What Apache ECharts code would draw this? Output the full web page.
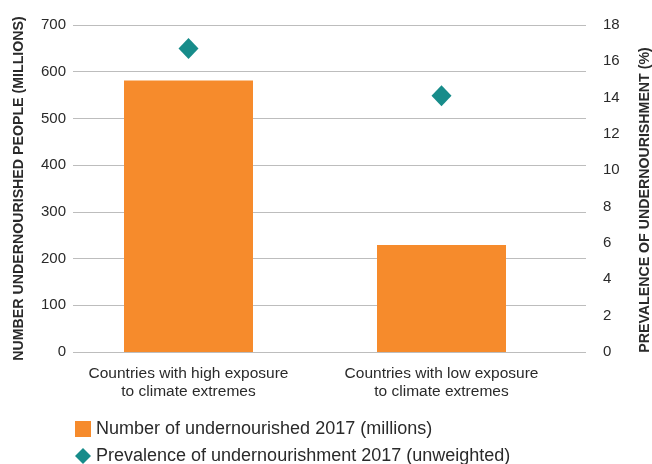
<!DOCTYPE html>
<html><head><meta charset="utf-8">
<script src="https://cdn.jsdelivr.net/npm/echarts@6/dist/echarts.min.js"></script>
<style>html,body{margin:0;padding:0;background:#fff}#c{width:652px;height:464px}</style>
</head><body><div id="c"></div>
<script>
const categories = ['Countries with high exposure\nto climate extremes', 'Countries with low exposure\nto climate extremes'];
const undernourishedMillions = [581, 229];
const prevalencePct = [16.7, 14.1];
const leftTicks = [0, 700, 100];
const rightTicks = [0, 18, 2];

const FONT = '"Liberation Sans", Arial, sans-serif';
const ORANGE = '#F68B2C', TEAL = '#178C8A', TXT = '#2a2a2a';
const TOP = 25, BOTTOM = 112;
const NAME_BAR = 'Number of undernourished 2017 (millions)';
const NAME_PT = 'Prevalence of undernourishment 2017 (unweighted)';

const chart = echarts.init(document.getElementById('c'));
chart.setOption({
  animation: false,
  textStyle: { fontFamily: FONT },
  grid: [
    { left: 73, right: 66, top: TOP, bottom: BOTTOM, containLabel: false, outerBoundsMode: 'none' },
    { left: 62, right: 84, top: TOP, bottom: BOTTOM, containLabel: false, outerBoundsMode: 'none' }
  ],
  xAxis: [
    { gridIndex: 0, type: 'category', data: categories, show: false },
    { gridIndex: 1, type: 'category', data: categories,
      axisLine: { show: false }, axisTick: { show: false },
      axisLabel: { interval: 0, hideOverlap: false, color: TXT, fontSize: 15.5, lineHeight: 18, margin: 13, fontFamily: FONT } }
  ],
  yAxis: [
    { gridIndex: 0, type: 'value', min: leftTicks[0], max: leftTicks[1], interval: leftTicks[2], position: 'left',
      name: 'NUMBER UNDERNOURISHED PEOPLE (MILLIONS)', nameLocation: 'middle', nameGap: 47, nameRotate: 90,
      nameTextStyle: { fontWeight: 'bold', fontSize: 14.2, color: TXT, fontFamily: FONT },
      axisLine: { show: false }, axisTick: { show: false },
      axisLabel: { color: TXT, fontSize: 15, margin: 7, fontFamily: FONT },
      splitLine: { lineStyle: { color: '#bdbdbd', width: 1.2 } } },
    { gridIndex: 0, type: 'value', min: rightTicks[0], max: rightTicks[1], interval: rightTicks[2], position: 'right',
      name: 'PREVALENCE OF UNDERNOURISHMENT (%)', nameLocation: 'middle', nameGap: 52, nameRotate: 90,
      nameTextStyle: { fontWeight: 'bold', fontSize: 14.2, color: TXT, fontFamily: FONT, padding: [0, 23, 0, 0] },
      axisLine: { show: false }, axisTick: { show: false },
      axisLabel: { color: TXT, fontSize: 15, margin: 17, fontFamily: FONT },
      splitLine: { show: false } },
    { gridIndex: 1, type: 'value', min: leftTicks[0], max: leftTicks[1], show: false },
    { gridIndex: 1, type: 'value', min: rightTicks[0], max: rightTicks[1], show: false }
  ],
  legend: [
    { left: 70, top: 415, itemWidth: 16, itemHeight: 16,
      textStyle: { fontSize: 18, color: TXT, fontFamily: FONT },
      data: [{ name: NAME_BAR, icon: 'rect' }] },
    { left: 70, top: 442, itemWidth: 16, itemHeight: 16,
      textStyle: { fontSize: 18, color: TXT, fontFamily: FONT },
      data: [{ name: NAME_PT, icon: 'diamond' }] }
  ],
  series: [
    { name: NAME_BAR, type: 'bar', xAxisIndex: 1, yAxisIndex: 2,
      data: undernourishedMillions, barWidth: 129, itemStyle: { color: ORANGE } },
    { name: NAME_PT, type: 'scatter', xAxisIndex: 1, yAxisIndex: 3,
      data: prevalencePct, symbol: 'diamond', symbolSize: [20, 21], itemStyle: { color: TEAL, opacity: 1 } }
  ]
});
</script></body></html>
